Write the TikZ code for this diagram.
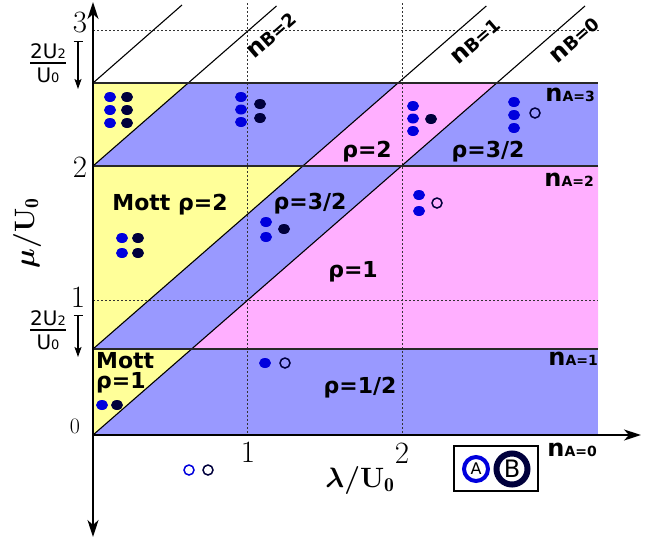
\documentclass[tikz,border=0pt]{standalone}
\usepackage{fix-cm}
\usepackage{amsmath}
\usepackage{fontspec}
\newfontfamily\dv{DejaVu Sans}
\usetikzlibrary{arrows.meta}
\definecolor{yel}{RGB}{255,255,153}
\definecolor{blu}{RGB}{153,153,255}
\definecolor{pnk}{RGB}{255,175,255}
\definecolor{Acol}{RGB}{0,0,221}
\definecolor{Bcol}{RGB}{0,0,60}
\definecolor{bndcol}{RGB}{40,40,40}
\newcommand\fs[1]{\fontsize{#1}{#1}\selectfont}
\newcommand\nlab[2]{{\fs{24}n}{\fs{14}#1=#2}}
\newcommand\nblab[1]{{\fs{24}n}{\fs{18}B=#1}}
\begin{document}
\begin{tikzpicture}[x=1pt,y=-1pt,
  lab/.style={font=\dv\bfseries\fs{22}, inner sep=0pt},
  nl/.style={font=\dv\bfseries, inner sep=0pt},
  tick/.style={font=\fs{31}, inner sep=0pt},
  bnd/.style={line width=1.6pt, draw=bndcol},
  diag/.style={line width=1.1pt, draw=black},
  gridl/.style={dash pattern=on 2pt off 2pt, line width=0.8pt, draw=black!80},
  adot/.style={fill=Acol}, bdot/.style={fill=Bcol},
  ahol/.style={draw=Acol, line width=1.5pt}, bhol/.style={draw=Bcol, line width=1.5pt},
  dimarrow/.style={line width=1.3pt, {Bar[width=9pt]}-{Stealth[length=10pt,width=7pt,inset=2pt]}},
]
\useasboundingbox (0,0) rectangle (645,539);
% regions
\fill[blu] (93,435) -- (93,83) -- (598,83) -- (598,435) -- cycle;
\fill[yel] (93,435) -- (93,349) -- (191.6,349) -- cycle;
\fill[yel] (93,349) -- (93,166) -- (302.9,166) -- cycle;
\fill[pnk] (191.6,349) -- (401.5,166) -- (598,166) -- (598,349) -- cycle;
\fill[yel] (93,166) -- (93,83) -- (188.2,83) -- cycle;
\fill[pnk] (302.9,166) -- (398,83) -- (496.7,83) -- (401.5,166) -- cycle;
% dotted grid
\draw[gridl] (247,3) -- (247,435);
\draw[gridl] (402,3) -- (402,435);
\draw[gridl] (93,30) -- (600,30);
\draw[gridl] (93,300) -- (598,300);
% diagonals
\draw[diag] (93,435) -- (585,6);
\draw[diag] (93,349) -- (486.3,6);
\draw[diag] (93,166) -- (276.5,6);
\draw[diag] (93,83) -- (182,5);
% horizontal boundaries
\draw[bnd] (93,349) -- (598,349);
\draw[bnd] (93,166) -- (598,166);
\draw[bnd] (93,83) -- (598,83);
% axes
\coordinate (ybot) at (93,537);
\coordinate (ytop) at (93,2);
\coordinate (x0) at (93,435);
\coordinate (xend) at (641,435);
\draw[line width=2pt, {Stealth[length=17pt,width=11pt,inset=5pt]}-{Stealth[length=17pt,width=11pt,inset=5pt]}] (ybot) -- (ytop);
\draw[line width=2pt, -{Stealth[length=17pt,width=11pt,inset=5pt]}] (x0) -- (xend);
% ticks
\node[tick] (t3) at (80,22) {3};
\node[tick] (t2) at (80,167) {2};
\node[tick] (t1) at (78,297) {1};
\node[tick, font=\fs{22}] (t0) at (75,426) {0};
\node[tick] (tx1) at (248,452) {1};
\node[tick] (tx2) at (402,453) {2};
% axis labels
\node[inner sep=0pt] (xl) at (360,480) {\fs{28}{\boldmath$\lambda$}\textbf{/U}$_{\mathbf 0}$};
\node[inner sep=0pt, rotate=90] (yl) at (27,233) {\fs{28}{\boldmath$\mu$}\textbf{/U}$_{\mathbf 0}$};
% 2U2/U0 gaps
\node[inner sep=0pt, font=\dv] (fr1) at (48,63) {$\genfrac{}{}{1.3pt}{0}{\hbox{\fs{20}2U\fs{13}2}}{\hbox{\fs{20}U\fs{13}0}}$};
\node[inner sep=0pt, font=\dv] (fr2) at (48,330) {$\genfrac{}{}{1.3pt}{0}{\hbox{\fs{20}2U\fs{13}2}}{\hbox{\fs{20}U\fs{13}0}}$};
\coordinate (g1a) at (78,41);
\coordinate (g1b) at (78,89);
\coordinate (g2a) at (78,315);
\coordinate (g2b) at (78,357);
\draw[dimarrow] (g1a) -- (g1b);
\draw[dimarrow] (g2a) -- (g2b);
% region labels
\node[lab, anchor=base] (m2) at (170,210) {Mott ρ=2};
\node[lab, anchor=base] (r2) at (367,157) {ρ=2};
\node[lab, anchor=base] (r32a) at (488,157) {ρ=3/2};
\node[lab, anchor=base] (r32b) at (310,209) {ρ=3/2};
\node[lab, anchor=base] (r1) at (353,277) {ρ=1};
\node[lab, anchor=base west] (m1a) at (96,368) {Mott};
\node[lab, anchor=base west] (m1b) at (96,388) {ρ=1};
\node[lab, anchor=base] (r12) at (360,393) {ρ=1/2};
% n labels
\node[nl, anchor=base east] (na3) at (595,101) {\nlab{A}{3}};
\node[nl, anchor=base east] (na2) at (594,186) {\nlab{A}{2}};
\node[nl, anchor=base east] (na1) at (598,365) {\nlab{A}{1}};
\node[nl, anchor=base east] (na0) at (597,456) {\nlab{A}{0}};
\node[nl, rotate=41.1] (nb2) at (272,35) {\nblab{2}};
\node[nl, rotate=41.1] (nb1) at (476,41) {\nblab{1}};
\node[nl, rotate=41.1] (nb0) at (575,40) {\nblab{0}};
% particles
\foreach \y in {97,110,123} {\fill[adot] (110,\y) ellipse[x radius=6pt, y radius=5pt];
  \fill[bdot] (127,\y) ellipse[x radius=6pt, y radius=5pt];}
\foreach \y in {97,109.5,122} {\fill[adot] (241,\y) ellipse[x radius=6pt, y radius=5pt];}
\foreach \y in {104,118} {\fill[bdot] (260,\y) ellipse[x radius=6pt, y radius=5pt];}
\foreach \y in {106,118.5,131} {\fill[adot] (413,\y) ellipse[x radius=6pt, y radius=5pt];}
\fill[bdot] (431,119) ellipse[x radius=6pt, y radius=5pt];
\foreach \y in {102,115,128} {\fill[adot] (514,\y) ellipse[x radius=6pt, y radius=5pt];}
\draw[bhol] (535,113) circle[radius=5pt];
\foreach \y in {238,253} {\fill[adot] (122,\y) ellipse[x radius=6pt, y radius=5pt];
  \fill[bdot] (138,\y) ellipse[x radius=6pt, y radius=5pt];}
\foreach \y in {222,237} {\fill[adot] (266,\y) ellipse[x radius=6pt, y radius=5pt];}
\fill[bdot] (284,229) ellipse[x radius=6pt, y radius=5pt];
\foreach \y in {195,211} {\fill[adot] (419,\y) ellipse[x radius=6pt, y radius=5pt];}
\draw[bhol] (437,203) circle[radius=5pt];
\fill[adot] (102,405) ellipse[x radius=6pt, y radius=5pt];
\fill[bdot] (117,405) ellipse[x radius=6pt, y radius=5pt];
\fill[adot] (265,363) ellipse[x radius=6pt, y radius=5pt];
\draw[bhol] (285,363) circle[radius=5pt];
\draw[ahol] (189,470) circle[radius=5pt];
\draw[bhol] (208,470) circle[radius=5pt];
% legend
\node[draw, line width=2.5pt, minimum width=84pt, minimum height=45pt, inner sep=0pt] (leg) at (496,468.5) {};
\node[circle, draw=Acol, line width=4pt, minimum size=24pt, inner sep=0pt, font=\dv\fs{16}] (ca) at (476,469) {A};
\node[circle, draw=Bcol, line width=6pt, minimum size=31pt, inner sep=0pt, font=\dv\fs{24}] (cb) at (512,469) {B};
\end{tikzpicture}
\end{document}
